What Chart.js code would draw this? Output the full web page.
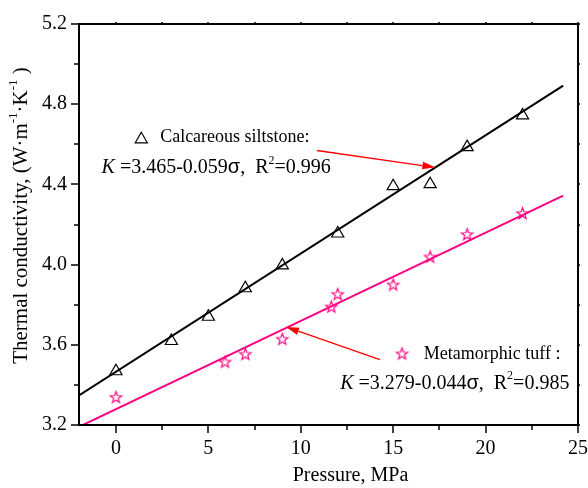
<!DOCTYPE html>
<html><head><meta charset="utf-8">
<style>html,body{margin:0;padding:0;background:#fff;overflow:hidden;}canvas{display:block;}</style>
<script src="https://cdn.jsdelivr.net/npm/chart.js@4/dist/chart.umd.min.js"></script>
</head><body>
<canvas id="c" width="600" height="488" style="width:600px;height:488px"></canvas>
<script>
// ---- data ----
const calcPressure = [0, 3, 5, 7, 9, 12, 15, 17, 19, 22];
const calcK        = [3.468, 3.619, 3.740, 3.882, 3.996, 4.155, 4.391, 4.401, 4.586, 4.744];
const tuffPressure = [0, 5.9, 7, 9, 11.65, 12, 15, 17, 19, 22];
const tuffK        = [3.338, 3.514, 3.553, 3.628, 3.789, 3.852, 3.899, 4.038, 4.150, 4.255];
const calcFitPressure = [-2, 24.2];
const calcFitK        = [3.347, 4.893];
const tuffFitPressure = [-2, 24.2];
const tuffFitK        = [3.191, 4.344];
const xMajorTicks = [0, 5, 10, 15, 20, 25];
const xTickLabels = ['0', '5', '10', '15', '20', '25'];
const xMinorTicks = [2.5, 7.5, 12.5, 17.5, 22.5];
const yMajorTicks = [3.2, 3.6, 4.0, 4.4, 4.8, 5.2];
const yTickLabels = ['3.2', '3.6', '4.0', '4.4', '4.8', '5.2'];
const yMinorTicks = [3.4, 3.8, 4.2, 4.6, 5.0];

const PINK = '#FF0080';
const SERIF = '"Liberation Serif", "Times New Roman", serif';

// open five-pointed star marker
function makeStar(color){
  const c = document.createElement('canvas');
  c.width = 15; c.height = 15;
  const g = c.getContext('2d');
  g.strokeStyle = color; g.lineWidth = 1.2; g.lineJoin = 'miter';
  g.beginPath();
  for (let i = 0; i < 10; i++) {
    const r = i % 2 ? 2.5 : 6.0;
    const a = -Math.PI/2 + i*Math.PI/5;
    const px = 7.5 + r*Math.cos(a), py = 7.8 + r*Math.sin(a);
    i ? g.lineTo(px, py) : g.moveTo(px, py);
  }
  g.closePath(); g.stroke();
  return c;
}
const star = makeStar(PINK);

function drawRuns(ctx, x, y, runs, size){
  let cx = x;
  for (const r of runs) {
    const fs = r.sup ? Math.round(size*0.62) : size;
    ctx.font = (r.italic ? 'italic ' : '') + fs + 'px ' + (r.family || SERIF);
    ctx.textBaseline = 'middle';
    ctx.textAlign = 'left';
    ctx.fillText(r.t, cx, r.sup ? y - size*0.36 : y);
    cx += ctx.measureText(r.t).width;
  }
  return cx - x;
}
function runsWidth(ctx, runs, size){
  let w = 0;
  for (const r of runs) {
    const fs = r.sup ? Math.round(size*0.62) : size;
    ctx.font = (r.italic ? 'italic ' : '') + fs + 'px ' + (r.family || SERIF);
    w += ctx.measureText(r.t).width;
  }
  return w;
}

const notes = {
  calcMarker: [1.37, 4.625],
  calcName: {at: [2.39, 4.636], text: 'Calcareous siltstone:'},
  calcEq: {at: [-0.78, 4.484], runs: [
    {t: 'K', italic: true}, {t: ' =3.465-0.059'}, {t: 'σ', family: '"Liberation Sans", Arial, sans-serif'},
    {t: ',  R'}, {t: '2', sup: true}, {t: '=0.996'}]},
  calcArrow: [[10.87, 4.569], [17.28, 4.485]],
  tuffMarker: [15.48, 3.555],
  tuffName: {at: [16.66, 3.552], text: 'Metamorphic tuff :'},
  tuffEq: {at: [12.13, 3.408], runs: [
    {t: 'K', italic: true}, {t: ' =3.279-0.044'}, {t: 'σ', family: '"Liberation Sans", Arial, sans-serif'},
    {t: ',  R'}, {t: '2', sup: true}, {t: '=0.985'}]},
  tuffArrow: [[14.28, 3.526], [9.20, 3.689]]
};

const framePlugin = {
  id: 'frame',
  afterDraw(chart){
    const {ctx, chartArea: a, scales: {x, y}} = chart;
    ctx.save();
    ctx.strokeStyle = '#000';
    ctx.lineWidth = 2;
    ctx.strokeRect(a.left, a.top, a.right - a.left, a.bottom - a.top);
    ctx.lineWidth = 1.5;
    const seg = (x1, y1, x2, y2) => { ctx.beginPath(); ctx.moveTo(x1, y1); ctx.lineTo(x2, y2); ctx.stroke(); };
    xMajorTicks.forEach(v => { const p = Math.round(x.getPixelForValue(v)); seg(p, a.bottom, p, a.bottom + 8); seg(p, a.top, p, a.top - 2); });
    xMinorTicks.forEach(v => { const p = Math.round(x.getPixelForValue(v)); seg(p, a.bottom, p, a.bottom + 5); seg(p, a.top, p, a.top - 2); });
    yMajorTicks.forEach(v => { const p = Math.round(y.getPixelForValue(v)); seg(a.left, p, a.left - 8, p); seg(a.right, p, a.right + 2, p); });
    yMinorTicks.forEach(v => { const p = Math.round(y.getPixelForValue(v)); seg(a.left, p, a.left - 5, p); seg(a.right, p, a.right + 2, p); });

    // axis titles
    ctx.fillStyle = '#000';
    ctx.font = '20px ' + SERIF; ctx.textAlign = 'center'; ctx.textBaseline = 'middle';
    ctx.fillText('Pressure, MPa', (a.left + a.right)/2 + 22, a.bottom + 51);
    const yRuns = [{t: 'Thermal conductivity, (W·m'}, {t: '-1', sup: true}, {t: '·K'}, {t: '-1', sup: true}, {t: ' )'}];
    const w = runsWidth(ctx, yRuns, 21);
    ctx.save();
    ctx.translate(a.left - 58, (a.top + a.bottom)/2 - 9);
    ctx.rotate(-Math.PI/2);
    drawRuns(ctx, -w/2, 0, yRuns, 21);
    ctx.restore();

    // annotations
    const P = pt => [x.getPixelForValue(pt[0]), y.getPixelForValue(pt[1])];
    let [mx, my] = P(notes.calcMarker);
    ctx.lineWidth = 1.2; ctx.strokeStyle = '#000';
    ctx.beginPath();
    for (let i = 0; i < 3; i++) {
      const ang = i*2*Math.PI/3;
      const px = mx + Math.sin(ang)*7, py = my - Math.cos(ang)*7;
      i ? ctx.lineTo(px, py) : ctx.moveTo(px, py);
    }
    ctx.closePath(); ctx.stroke();
    [mx, my] = P(notes.tuffMarker);
    ctx.drawImage(star, mx - star.width/2, my - star.height/2);

    ctx.fillStyle = '#000';
    let [tx, ty] = P(notes.calcName.at);
    drawRuns(ctx, tx, ty, [{t: notes.calcName.text}], 18);
    [tx, ty] = P(notes.tuffName.at);
    drawRuns(ctx, tx, ty, [{t: notes.tuffName.text}], 18);
    [tx, ty] = P(notes.calcEq.at);
    drawRuns(ctx, tx, ty, notes.calcEq.runs, 20);
    [tx, ty] = P(notes.tuffEq.at);
    drawRuns(ctx, tx, ty, notes.tuffEq.runs, 20);

    const arrow = (from, to) => {
      const [x1, y1] = P(from), [x2, y2] = P(to);
      const ang = Math.atan2(y2 - y1, x2 - x1);
      const L = 13, H = 3.8;
      const bx = x2 - L*Math.cos(ang), by = y2 - L*Math.sin(ang);
      ctx.strokeStyle = '#FF0000'; ctx.fillStyle = '#FF0000'; ctx.lineWidth = 1.3;
      ctx.beginPath(); ctx.moveTo(x1, y1); ctx.lineTo(bx, by); ctx.stroke();
      ctx.beginPath();
      ctx.moveTo(x2, y2);
      ctx.lineTo(bx + H*Math.sin(ang), by - H*Math.cos(ang));
      ctx.lineTo(bx - H*Math.sin(ang), by + H*Math.cos(ang));
      ctx.closePath(); ctx.fill();
    };
    arrow(notes.calcArrow[0], notes.calcArrow[1]);
    arrow(notes.tuffArrow[0], notes.tuffArrow[1]);
    ctx.restore();
  }
};

const pts = (xs, ys) => xs.map((v, i) => ({x: v, y: ys[i]}));

new Chart(document.getElementById('c'), {
  type: 'scatter',
  data: {
    datasets: [
      {label: 'Calcareous siltstone fit', data: pts(calcFitPressure, calcFitK), showLine: true,
       borderColor: '#000', borderWidth: 2, pointRadius: 0, fill: false},
      {label: 'Metamorphic tuff fit', data: pts(tuffFitPressure, tuffFitK), showLine: true,
       borderColor: PINK, borderWidth: 2, pointRadius: 0, fill: false},
      {label: 'Calcareous siltstone', data: pts(calcPressure, calcK), showLine: false,
       pointStyle: 'triangle', pointRadius: 7, borderColor: '#000', backgroundColor: 'rgba(0,0,0,0)', borderWidth: 1.2},
      {label: 'Metamorphic tuff', data: pts(tuffPressure, tuffK), showLine: false,
       pointStyle: star, pointRadius: 7, borderColor: PINK, backgroundColor: 'rgba(0,0,0,0)'}
    ]
  },
  options: {
    responsive: false, animation: false, devicePixelRatio: 1,
    layout: {padding: {top: 16, right: 19, left: 0, bottom: 0}},
    plugins: {legend: {display: false}, tooltip: {enabled: false}},
    scales: {
      x: {
        type: 'linear', min: -2, max: 25,
        afterBuildTicks: s => { s.ticks = xMajorTicks.map(v => ({value: v})); },
        afterFit: s => { s.height = 63; },
        ticks: {callback: (v, i) => xTickLabels[i], font: {family: SERIF, size: 20}, color: '#000',
                padding: 12, maxRotation: 0, autoSkip: false},
        grid: {display: false, drawTicks: false},
        border: {display: false}
      },
      y: {
        type: 'linear', min: 3.2, max: 5.2,
        afterBuildTicks: s => { s.ticks = yMajorTicks.map(v => ({value: v})); },
        afterFit: s => { s.width = 79; },
        ticks: {callback: (v, i) => yTickLabels[i], font: {family: SERIF, size: 20}, color: '#000',
                padding: 12, autoSkip: false},
        grid: {display: false, drawTicks: false},
        border: {display: false}
      }
    }
  },
  plugins: [framePlugin]
});
</script>
</body></html>
